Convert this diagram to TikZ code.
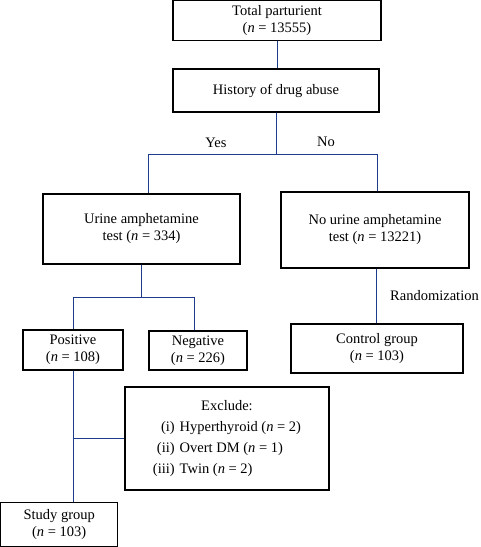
\documentclass[tikz,border=0pt]{standalone}
\usepackage{fontspec}
\setmainfont{Liberation Serif}
\usetikzlibrary{calc}
\usetikzlibrary{positioning}

\begin{document}
\begin{tikzpicture}[
		x=1pt,y=-1pt,
		font=\fontsize{14.5}{17}\selectfont,
		box/.style={draw=black,line width=1.1pt,inner sep=0pt,align=center},
		link/.style={draw={rgb,255:red,30;green,60;blue,140},line width=1pt},
		tag/.style={inner sep=0pt}
	]
	\useasboundingbox (0,0) rectangle (481,547);

	\node [box,minimum width=208,minimum height=40] (total) at (277,20.6) {Total parturient\\(\textit{n} = 13555)};
	\node [box,minimum width=206,minimum height=43] (hist) at (276,90.5) {History of drug abuse};
	\node [box,minimum width=197,minimum height=70] (urine) at (141.5,229) {Urine amphetamine\\test (\textit{n} = 334)};
	\node [box,minimum width=188,minimum height=76] (nourine) at (375,230) {No urine amphetamine\\test (\textit{n} = 13221)};
	\node [box,minimum width=100,minimum height=40] (pos) at (73,350) {Positive\\(\textit{n} = 108)};
	\node [box,minimum width=98,minimum height=39] (neg) at (198,350.5) {Negative\\(\textit{n} = 226)};
	\node [box,minimum width=172,minimum height=49] (control) at (377,348.5) {Control group\\(\textit{n} = 103)};
	\node [box,minimum width=204,minimum height=103] (exclude) at (227,438.5) {%
		\begin{tabular}{@{}r@{\hspace{5pt}}l@{}}
			\multicolumn{2}{c}{Exclude:}\\[4pt]
			(i) & Hyperthyroid (\textit{n} = 2)\\[4pt]
			(ii) & Overt DM (\textit{n} = 1)\\[4pt]
			(iii) & Twin (\textit{n} = 2)
		\end{tabular}};
	\node [box,minimum width=117,minimum height=44] (study) at (59.2,524.5) {Study group\\(\textit{n} = 103)};

	% branch labels
	\node [tag] (yes) at (216,143) {Yes};
	\node [tag] (no) at (326,142) {No};
	\node [tag,anchor=west] (rand) at (390,296) {Randomization};

	\draw [link] (total.south) -- (total.south |- hist.north);
	\draw [link] (hist.south) -- ++(0,42) coordinate (fork);
	\draw [link] (fork) -| ([xshift=7]urine.north);
	\draw [link] (fork) -| ([xshift=2]nourine.north);
	\draw [link] (urine.south) -- ++(0,33) coordinate (split);
	\draw [link] (split) -| (pos.north);
	\draw [link] (split) -| ([xshift=-4]neg.north);
	\draw [link] ([xshift=1]nourine.south) -- ([xshift=1]nourine.south |- control.north);
	\draw [link] (pos.south) -- (pos.south |- study.north);
	\draw [link] (exclude.west) -- (exclude.west -| pos.south);
\end{tikzpicture}
\end{document}
